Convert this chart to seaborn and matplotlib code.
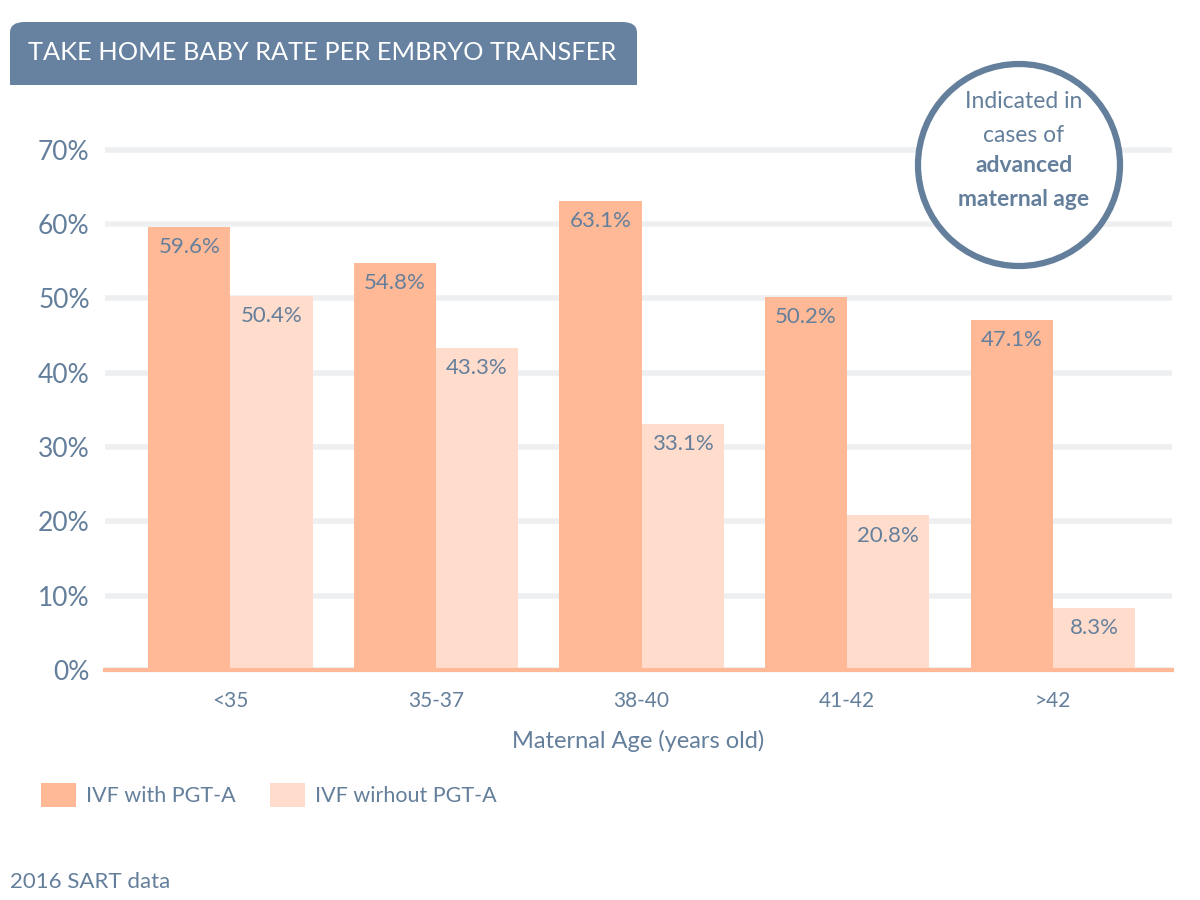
import matplotlib
matplotlib.use("Agg")
import matplotlib.pyplot as plt
import seaborn as sns
import pandas as pd
from matplotlib.patches import Circle, FancyBboxPatch, Rectangle

# data
ages = ["<35", "35-37", "38-40", "41-42", ">42"]
with_pgta = [59.6, 54.8, 63.1, 50.2, 47.1]
without_pgta = [50.4, 43.3, 33.1, 20.8, 8.3]
series = ["IVF with PGT-A", "IVF wirhout PGT-A"]
yticks = [0, 10, 20, 30, 40, 50, 60, 70]

DARK = "#ffb997"
LIGHT = "#ffdccb"
SLATE = "#647f9b"
GRID = "#eeeff1"

df = pd.DataFrame({
    "age": ages * 2,
    "rate": with_pgta + without_pgta,
    "series": [series[0]] * len(ages) + [series[1]] * len(ages),
})

sns.set_theme(style="whitegrid")
plt.rcParams["font.family"] = ["Lato", "DejaVu Sans"]

fig = plt.figure(figsize=(12, 9), dpi=100)
# 0% sits at y=670px, one 10% step is ~74.3px
ax = fig.add_axes([105 / 1200, 1 - 670 / 900, 1067 / 1200, 7.5 * 74.3 / 900])

sns.barplot(data=df, x="age", y="rate", hue="series", palette=[DARK, LIGHT],
            width=0.8, saturation=1, linewidth=0, ax=ax, legend=True)

ax.set_ylim(0, 75)
ax.set_xlim(-0.61, 4.58)
ax.set_yticks(yticks)
ax.set_yticklabels([f"{t}%" for t in yticks])
ax.grid(axis="y", color=GRID, linewidth=4)
ax.grid(axis="x", visible=False)
ax.set_axisbelow(True)
for s in ["top", "left", "right"]:
    ax.spines[s].set_visible(False)
ax.spines["bottom"].set_color(DARK)
ax.spines["bottom"].set_linewidth(3)
ax.tick_params(axis="y", length=0, pad=11, labelsize=19, labelcolor=SLATE)
ax.tick_params(axis="x", length=0, pad=15, labelsize=15, labelcolor=SLATE)
ax.set_ylabel("")
ax.set_xlabel("Maternal Age (years old)", fontsize=17, color=SLATE, labelpad=14)

# value labels inside the top of each bar
for cont in ax.containers:
    for bar in cont:
        h = bar.get_height()
        ax.annotate(f"{h:.1f}%", (bar.get_x() + bar.get_width() / 2, h),
                    xytext=(0, -14.5), textcoords="offset points",
                    ha="center", va="center", fontsize=16, color=SLATE)

sns.move_legend(ax, "center left", bbox_to_anchor=(41 / 1200, 1 - 795 / 900),
                bbox_transform=fig.transFigure, ncol=2, frameon=False, title=None,
                fontsize=15.5, handlelength=1.63, handleheight=1.3,
                handletextpad=0.47, columnspacing=1.58, borderpad=0,
                borderaxespad=0, labelcolor=SLATE)

# title banner with rounded top corners
fig.patches.append(FancyBboxPatch((10 / 1200, 1 - 85 / 900), 627 / 1200, 63 / 900,
                                  boxstyle="round,pad=0,rounding_size=0.012",
                                  transform=fig.transFigure, facecolor="#6682a0",
                                  edgecolor="none"))
fig.patches.append(Rectangle((10 / 1200, 1 - 85 / 900), 627 / 1200, 30 / 900,
                             transform=fig.transFigure, facecolor="#6682a0",
                             edgecolor="none"))
fig.text(28 / 1200, 1 - 53 / 900, "TAKE HOME BABY RATE PER EMBRYO TRANSFER",
         color="white", fontsize=18.3, ha="left", va="center")

# callout circle
fig.patches.append(Circle((10.19, 9 - 1.65), 1.01, transform=fig.dpi_scale_trans,
                          facecolor="white", edgecolor=SLATE, linewidth=4.5))
circle_lines = [("Indicated in", 102, "normal"), ("cases of", 135, "normal"),
                ("advanced", 166, "bold"), ("maternal age", 199, "bold")]
for txt, y, w in circle_lines:
    fig.text(1024 / 1200, 1 - y / 900, txt, color=SLATE, fontsize=16.5,
             fontweight=w, ha="center", va="center")

fig.text(10 / 1200, 1 - 882 / 900, "2016 SART data", color=SLATE, fontsize=16,
         ha="left", va="center")

fig.savefig("out.png", dpi=100)
